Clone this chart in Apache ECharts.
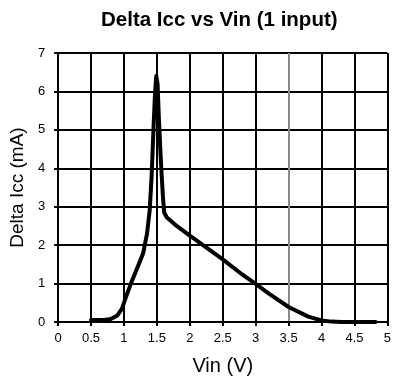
<!DOCTYPE html>
<html>
<head>
<meta charset="utf-8">
<script src="https://cdn.jsdelivr.net/npm/echarts@6/dist/echarts.min.js"></script>
<style>
  html, body { margin: 0; padding: 0; background: #fff; }
  #chart { width: 394px; height: 381px; }
</style>
</head>
<body>
<div id="chart"></div>
<script>
// Vin (V) 与 Delta Icc (mA)，读自原图
var vin = [0.5, 0.6, 0.7, 0.8, 0.9, 0.97, 1.02, 1.1, 1.2, 1.29, 1.35, 1.39, 1.42, 1.45, 1.47, 1.49, 1.51, 1.53, 1.56, 1.59, 1.61, 1.65, 1.7, 1.8, 2.0, 2.2, 2.5, 2.8, 3.0, 3.2, 3.5, 3.8, 4.0, 4.15, 4.3, 4.6, 4.82]
var icc = [0.05, 0.05, 0.05, 0.08, 0.17, 0.35, 0.6, 0.98, 1.4, 1.78, 2.3, 2.9, 3.8, 5.1, 5.9, 6.4, 6.2, 5.3, 4.2, 3.3, 2.85, 2.72, 2.65, 2.5, 2.25, 2.0, 1.63, 1.23, 0.99, 0.74, 0.39, 0.14, 0.04, 0.01, 0, 0, 0]

var titleText = 'Delta Icc vs Vin (1 input)'
var xName = 'Vin (V)'
var yName = 'Delta Icc (mA)'

var font = 'Liberation Sans, Arial, sans-serif'
var ink = '#000'

// 3.5 那条竖线在原图里偏灰
var xSplitColors = [ink, ink, ink, ink, ink, ink, ink, '#8a8a8a', ink, ink, ink]

var pts = vin.map(function (v, i) { return [v, icc[i]] })

var myChart = echarts.init(document.getElementById('chart'))
myChart.setOption({
  backgroundColor: '#fff',
  animation: false,
  title: {
    text: titleText,
    left: 96,
    top: 5,
    textStyle: { fontFamily: font, fontSize: 20.5, fontWeight: 'bold', color: ink }
  },
  grid: { left: 57, right: 2, top: 53, bottom: 58 },
  xAxis: {
    type: 'value',
    min: 0,
    max: 5,
    interval: 0.5,
    name: xName,
    nameLocation: 'middle',
    nameGap: 34,
    nameTextStyle: { fontFamily: font, fontSize: 20, color: ink },
    axisLine: { show: true, lineStyle: { color: ink, width: 2 } },
    axisTick: { show: true, length: 4, lineStyle: { color: ink, width: 2 } },
    axisLabel: { fontFamily: font, fontSize: 13, color: ink, margin: 10 },
    splitLine: { show: true, lineStyle: { color: xSplitColors, width: 2 } }
  },
  yAxis: {
    type: 'value',
    min: 0,
    max: 7,
    interval: 1,
    name: yName,
    nameLocation: 'middle',
    nameGap: 27,
    nameTextStyle: { fontFamily: font, fontSize: 19, color: ink },
    axisLine: { show: true, lineStyle: { color: ink, width: 2 } },
    axisTick: { show: true, length: 4, lineStyle: { color: ink, width: 2 } },
    axisLabel: { fontFamily: font, fontSize: 13, color: ink, margin: 13 },
    splitLine: { show: true, lineStyle: { color: ink, width: 2 } }
  },
  series: [{
    type: 'line',
    data: pts,
    showSymbol: false,
    smooth: false,
    lineStyle: { color: ink, width: 4, cap: 'round', join: 'round' }
  }]
})
</script>
</body>
</html>
